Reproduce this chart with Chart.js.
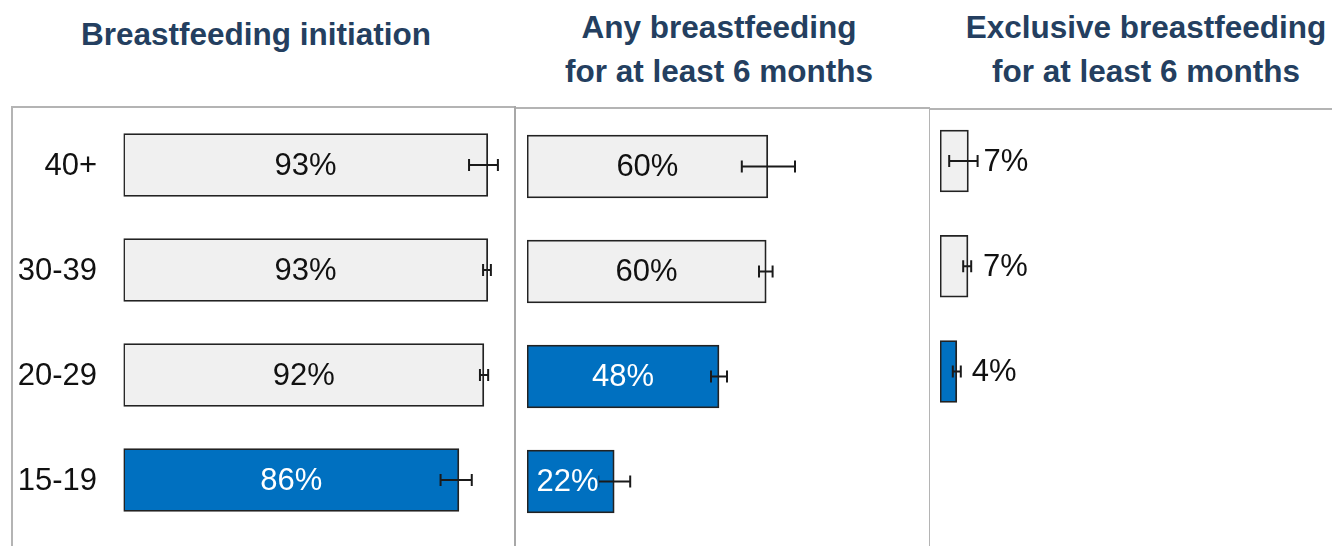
<!DOCTYPE html>
<html>
<head>
<meta charset="utf-8">
<script src="https://cdn.jsdelivr.net/npm/chart.js@4"></script>
<style>
  body { margin: 0; background: #fff; width: 1332px; height: 546px; overflow: hidden; position: relative; font-family: "Liberation Sans", Arial, sans-serif; }
  .title { position: absolute; width: 600px; color: #243f60; font-weight: bold; font-size: 31.5px; line-height: 44px; text-align: center; white-space: nowrap; }
  .line { position: absolute; background: #b4b4b4; }
  canvas { position: absolute; }
</style>
</head>
<body>
<div class="title" style="left:-44px; top:12px;">Breastfeeding initiation</div>
<div class="title" style="left:419px; top:4.5px;">Any breastfeeding<br>for at least 6 months</div>
<div class="title" style="left:846px; top:4.5px;">Exclusive breastfeeding<br>for at least 6 months</div>

<div class="line" style="left:11px; top:106px; width:1.5px; height:440px;"></div>
<div class="line" style="left:11px; top:106px; width:504px; height:1.5px;"></div>
<div class="line" style="left:514px; top:106px; width:2px; height:440px; background:#a8a8a8;"></div>
<div class="line" style="left:516px; top:107px; width:413px; height:1.5px;"></div>
<div class="line" style="left:928.5px; top:107px; width:1.5px; height:439px;"></div>
<div class="line" style="left:930px; top:108px; width:402px; height:1.5px;"></div>

<canvas id="initChart" width="502" height="440" style="left:12px; top:106px;"></canvas>
<canvas id="anyChart" width="413" height="440" style="left:516px; top:106px;"></canvas>
<canvas id="exclChart" width="402" height="440" style="left:930px; top:106px;"></canvas>

<script>
const ageGroups = ["40+", "30-39", "20-29", "15-19"];

// breastfeeding initiation
const initiation = [93.4, 93.4, 92.4, 86.0];
const initiationLow = [88.6, 92.2, 91.4, 81.3];
const initiationHigh = [96.0, 94.2, 93.5, 89.3];
const initiationSig = [false, false, false, true];

// any breastfeeding for at least 6 months
const anySix = [60.2, 59.8, 48.0, 21.8];
const anySixLow = [53.7, 58.0, 46.0, 17.8];
const anySixHigh = [67.0, 61.4, 50.0, 25.8];
const anySixSig = [false, false, true, true];

// exclusive breastfeeding for at least 6 months (no estimate for 15-19)
const exclusiveSix = [7.1, 7.0, 4.2, null];
const exclusiveSixLow = [2.3, 5.8, 3.2, null];
const exclusiveSixHigh = [9.4, 7.8, 5.2, null];
const exclusiveSixSig = [false, false, true, false];

const GREY = "#f0f0f0";
const BLUE = "#0070c0";
const FONT = '"Liberation Sans", Arial, sans-serif';

const overlay = {
  id: "overlay",
  afterDatasetsDraw(chart, args, opts) {
    const ctx = chart.ctx;
    const xs = chart.scales.x;
    const ys = chart.scales.y;
    const meta = chart.getDatasetMeta(0);
    const values = chart.data.datasets[0].data;
    ctx.save();
    ctx.font = "31px " + FONT;
    ctx.textBaseline = "middle";

    // category labels (left panel only)
    if (opts.showTicks) {
      ctx.textAlign = "right";
      ctx.fillStyle = "#111";
      chart.data.labels.forEach((lab, i) => {
        ctx.fillText(lab, chart.chartArea.left - 26.5, ys.getPixelForValue(i) + 1);
      });
    }

    meta.data.forEach((bar, i) => {
      const v = values[i];
      if (v == null) return;
      const y = bar.y;
      const x1 = xs.getPixelForValue(opts.low[i]);
      const x2 = xs.getPixelForValue(opts.high[i]);
      ctx.strokeStyle = "#1a1a1a";
      ctx.lineWidth = 2;
      ctx.beginPath();
      ctx.moveTo(x1, y); ctx.lineTo(x2, y);
      ctx.moveTo(x1, y - 6); ctx.lineTo(x1, y + 6);
      ctx.moveTo(x2, y - 6); ctx.lineTo(x2, y + 6);
      ctx.stroke();

      const label = Math.round(v) + "%";
      if (opts.outside) {
        ctx.textAlign = "left";
        ctx.fillStyle = "#111";
        ctx.fillText(label, bar.x + 15, y + 1);
      } else {
        const cx = (bar.base + bar.x) / 2 - (opts.sig[i] && v < 30 ? 3 : 0);
        const w = ctx.measureText(label).width;
        ctx.fillStyle = opts.sig[i] ? BLUE : GREY;
        ctx.fillRect(cx - w / 2, y - 13, w, 26);
        ctx.textAlign = "center";
        ctx.fillStyle = opts.sig[i] ? "#ffffff" : "#111";
        ctx.fillText(label, cx, y + 1);
      }
    });
    ctx.restore();
  }
};

function makePanel(id, values, low, high, sig, cfg) {
  new Chart(document.getElementById(id), {
    type: "bar",
    data: {
      labels: ageGroups,
      datasets: [{
        data: values,
        backgroundColor: sig.map(s => s ? BLUE : GREY),
        borderColor: "#222",
        borderWidth: 1.8,
        borderSkipped: false,
        barThickness: cfg.thickness
      }]
    },
    options: {
      indexAxis: "y",
      responsive: false,
      animation: false,
      devicePixelRatio: 1,
      layout: { padding: cfg.padding },
      scales: {
        x: { min: 0, max: cfg.max, display: false },
        y: { display: false }
      },
      plugins: {
        legend: { display: false },
        tooltip: { enabled: false },
        overlay: { low: low, high: high, sig: sig, outside: cfg.outside, showTicks: cfg.showTicks }
      }
    },
    plugins: [overlay]
  });
}

makePanel("initChart", initiation, initiationLow, initiationHigh, initiationSig,
  { max: 100, showTicks: true, outside: false, thickness: 63, padding: { top: 6.5, bottom: 13.5, left: 111.5, right: 0.5 } });
makePanel("anyChart", anySix, anySixLow, anySixHigh, anySixSig,
  { max: 100, showTicks: false, outside: false, thickness: 63, padding: { top: 8, bottom: 12, left: 11, right: 2 } });
makePanel("exclChart", exclusiveSix, exclusiveSixLow, exclusiveSixHigh, exclusiveSixSig,
  { max: 98, showTicks: false, outside: true, thickness: 62, padding: { top: 2.4, bottom: 16.7, left: 10, right: 0 } });
</script>
</body>
</html>
